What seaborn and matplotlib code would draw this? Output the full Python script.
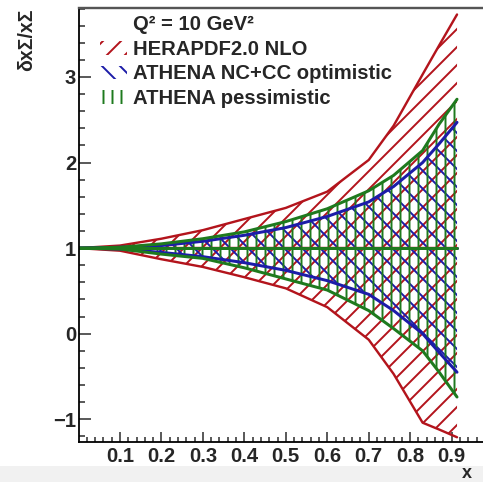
import matplotlib
matplotlib.use("Agg")
import matplotlib.pyplot as plt
import seaborn as sns
import numpy as np
import pandas as pd
from matplotlib.patches import Patch, Rectangle

# ---------------- data ----------------
x_vals = [0.0, 0.1, 0.2, 0.3, 0.4, 0.5, 0.6, 0.7, 0.76, 0.83, 0.87, 0.913]

hera_up = [1.0, 1.03, 1.11, 1.21, 1.34, 1.47, 1.66, 2.03, 2.43, 3.03, 3.37, 3.73]
hera_lo = [1.0, 0.97, 0.87, 0.78, 0.66, 0.53, 0.31, -0.07, -0.47, -1.04, -1.12, -1.21]

opt_up = [1.0, 1.01, 1.03, 1.08, 1.15, 1.24, 1.37, 1.54, 1.72, 2.0, 2.22, 2.47]
opt_lo = [1.0, 0.99, 0.95, 0.90, 0.83, 0.74, 0.62, 0.46, 0.27, 0.0, -0.22, -0.45]

pes_up = [1.0, 1.01, 1.05, 1.11, 1.19, 1.31, 1.46, 1.67, 1.85, 2.14, 2.45, 2.74]
pes_lo = [1.0, 0.99, 0.93, 0.88, 0.77, 0.64, 0.51, 0.27, 0.06, -0.2, -0.45, -0.74]

central = [1.0] * len(x_vals)

labels = ["HERAPDF2.0 NLO", "ATHENA NC+CC optimistic", "ATHENA pessimistic"]
header = "Q\u00b2 = 10 GeV\u00b2"
xtick_vals = [0.1, 0.2, 0.3, 0.4, 0.5, 0.6, 0.7, 0.8, 0.9]
xtick_labels = ["0.1", "0.2", "0.3", "0.4", "0.5", "0.6", "0.7", "0.8", "0.9"]
ytick_vals = [-1, 0, 1, 2, 3]
ytick_labels = ["\u22121", "0", "1", "2", "3"]

# ---------------- style ----------------
sns.set_style("ticks")
plt.rcParams["font.family"] = ["Liberation Sans", "DejaVu Sans"]
plt.rcParams["hatch.linewidth"] = 1.3

RED = "#b3141c"
BLUE = "#1c1ca8"
GREEN = "#1e7a1e"

DPI = 108
fig = plt.figure(figsize=(483 / DPI, 482 / DPI), dpi=DPI)
fig.patch.set_facecolor("white")
fig.patches.append(Rectangle((0, 0), 1, 16 / 482, transform=fig.transFigure,
                             facecolor="#f1f1f1", edgecolor="none", zorder=-10))

ax = fig.add_axes([78.5 / 483, (482 - 441.7) / 482, 414.6 / 483, (441.7 - 8.5) / 482])
ax.set_facecolor("none")

df = pd.DataFrame({"x": x_vals,
                   "hera_up": hera_up, "hera_lo": hera_lo,
                   "opt_up": opt_up, "opt_lo": opt_lo,
                   "pes_up": pes_up, "pes_lo": pes_lo,
                   "central": central})

bands = [("hera", RED, "//", 1.6, labels[0]),
         ("opt", BLUE, "\\\\", 2.0, labels[1]),
         ("pes", GREEN, "||", 2.0, labels[2])]

handles = []
for key, col, hatch, lw, lab in bands:
    ax.fill_between(df["x"], df[key + "_lo"], df[key + "_up"], facecolor="none",
                    edgecolor=col, hatch=hatch, linewidth=0)
    sns.lineplot(data=df, x="x", y=key + "_up", color=col, lw=lw, ax=ax,
                 estimator=None, sort=False)
    sns.lineplot(data=df, x="x", y=key + "_lo", color=col, lw=lw, ax=ax,
                 estimator=None, sort=False)
    sns.lineplot(data=df, x="x", y="central", color=col, lw=lw, ax=ax,
                 estimator=None, sort=False)
    handles.append(Patch(facecolor="none", edgecolor=col, hatch=hatch,
                         linewidth=0, label=lab))

ax.set_xlim(0, 1.0)
ax.set_ylim(-1.262, 3.79)
ax.set_xlabel("")
ax.set_ylabel("")

ax.set_xticks(xtick_vals)
ax.set_xticklabels(xtick_labels, fontsize=13.5, fontweight="bold")
ax.set_xticks(np.arange(0.02, 1.0, 0.02), minor=True)
ax.set_yticks(ytick_vals)
ax.set_yticklabels(ytick_labels, fontsize=13.5, fontweight="bold")
ax.set_yticks(np.arange(-1.2, 3.81, 0.2), minor=True)

ax.tick_params(axis="x", which="major", direction="in", length=6.7, width=1.0, pad=3.5)
ax.tick_params(axis="x", which="minor", direction="in", length=3.3, width=1.0)
ax.tick_params(axis="y", which="major", direction="in", length=8, width=1.0, pad=1.5)
ax.tick_params(axis="y", which="minor", direction="in", length=4, width=1.0)
ax.tick_params(top=False, right=False, which="both")

for s in ["left", "bottom"]:
    ax.spines[s].set_linewidth(1.2)
    ax.spines[s].set_color("black")
ax.spines["top"].set_linewidth(1.6)
ax.spines["top"].set_color("#555555")
ax.spines["right"].set_visible(True)

leg = ax.legend(handles=handles, loc="upper left",
                bbox_to_anchor=(100 / 483, 1 - 40 / 482), bbox_transform=fig.transFigure,
                frameon=False, handlelength=1.33, handleheight=0.65, handletextpad=0.3,
                labelspacing=0.27, borderpad=0, borderaxespad=0,
                prop={"size": 13.5, "weight": "bold"})

fig.text(133 / 483, 1 - 25 / 482, header, fontsize=13.5, fontweight="bold",
         ha="left", va="center")
fig.text(467 / 483, 1 - 474 / 482, "x", fontsize=12, fontweight="bold",
         ha="center", va="center")
fig.text(27 / 483, 1 - 40 / 482, "\u03b4x\u03a3/x\u03a3", fontsize=13, fontweight="bold",
         rotation=90, ha="center", va="center")

fig.savefig("out.png", dpi=DPI)
